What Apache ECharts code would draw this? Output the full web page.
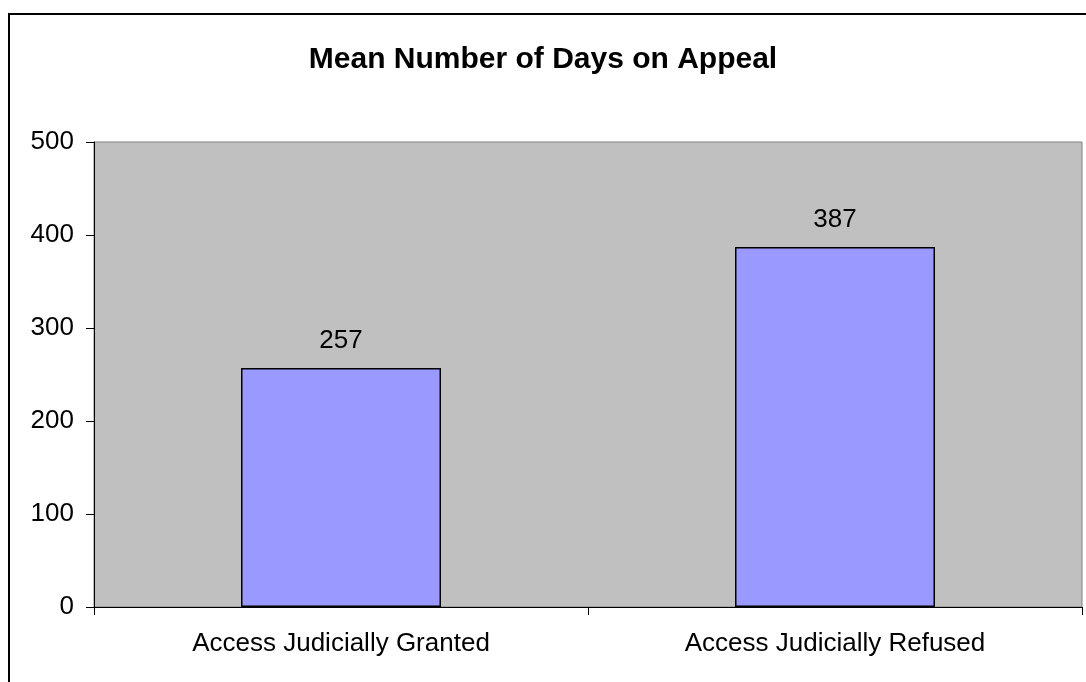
<!DOCTYPE html>
<html>
<head>
<meta charset="utf-8">
<script src="https://cdn.jsdelivr.net/npm/echarts@6/dist/echarts.min.js"></script>
<style>
html,body{margin:0;padding:0;background:#fff;}
#chart{width:1086px;height:682px;}
</style>
</head>
<body>
<div id="chart"></div>
<script>
const categories = ['Access Judicially Granted', 'Access Judicially Refused'];
const meanDays = [257, 387];
const yTicks = [0, 100, 200, 300, 400, 500];

const chart = echarts.init(document.getElementById('chart'), null, {renderer: 'canvas'});
const font = '"Liberation Sans", Arial, sans-serif';
chart.setOption({
  backgroundColor: '#ffffff',
  animation: false,
  title: {
    text: 'Mean Number of Days on Appeal',
    left: 'center',
    top: 40,
    textStyle: {fontFamily: font, fontSize: 30, fontWeight: 'bold', color: '#000'}
  },
  graphic: [{
    type: 'rect',
    shape: {x: 9, y: 14, width: 1100, height: 700},
    style: {fill: 'none', stroke: '#000', lineWidth: 2},
    silent: true
  }],
  grid: {
    left: 94, right: 4, top: 142, bottom: 75,
    show: true, backgroundColor: '#c0c0c0', borderColor: '#808080', borderWidth: 1
  },
  xAxis: {
    type: 'category',
    data: categories,
    axisLine: {lineStyle: {color: '#000', width: 1}},
    axisTick: {show: true, length: 8, lineStyle: {color: '#000'}},
    axisLabel: {fontFamily: font, fontSize: 26, color: '#000', margin: 24}
  },
  yAxis: {
    type: 'value',
    min: yTicks[0], max: yTicks[yTicks.length - 1], interval: 100,
    axisLine: {show: true, lineStyle: {color: '#000', width: 1}},
    axisTick: {show: true, length: 8, lineStyle: {color: '#000'}},
    splitLine: {show: false},
    axisLabel: {fontFamily: font, fontSize: 26, color: '#000', margin: 20}
  },
  series: [{
    type: 'bar',
    data: meanDays,
    barWidth: 200,
    itemStyle: {color: '#9999ff', borderColor: '#000', borderWidth: 1.5},
    label: {show: true, position: 'top', distance: 14, fontFamily: font, fontSize: 26, color: '#000'}
  }]
});
</script>
</body>
</html>
